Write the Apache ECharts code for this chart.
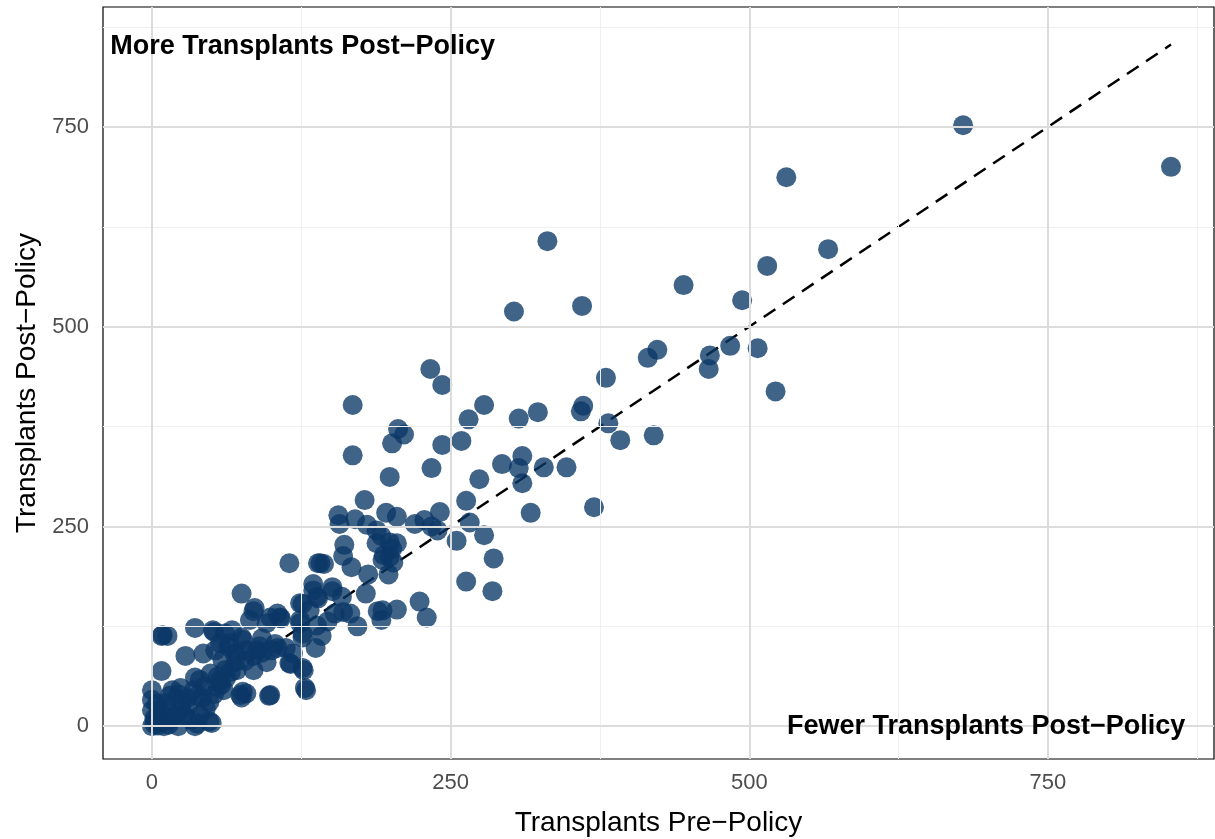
<!DOCTYPE html>
<html>
<head>
<meta charset="utf-8">
<script src="https://cdn.jsdelivr.net/npm/echarts@6/dist/echarts.min.js"></script>
<style>
html,body{margin:0;padding:0;background:#fff;}
#c{width:1215px;height:839px;}
</style>
</head>
<body>
<div id="c"></div>
<script>
// Transplants pre-policy (x) and post-policy (y) per center
const prePolicy = [
853,679,531,566,515,494,507,522,484,467,466,445,423,415,420,392,382,380,370,361,
359,360,331,303,347,328,323,310,307,307,310,317,293,278,274,265,259,243,243,233,
234,241,239,263,266,255,278,286,263,285,228,224,230,168,168,211,206,201,199,205,
220,196,178,156,157,170,180,188,192,161,160,167,181,194,201,205,198,205,189,179,
192,172,160,151,144,141,135,139,126,115,132,138,147,142,137,126,124,116,127,129,
98,75,85,92,103,112,108,99,79,64,52,36,28,8,13,8,74,79,48,38,
234,188,199,193,199,202,139,135,138,151,159,193,124,166,153,
9,51,0,0,3,13,22,36,50,75,36,17,11,25,42,55,61,53,69,75,61,
86,105,67,82,96,107,124,126,118,115,126,128,99,76,85,96,105,88,71,59,49,40,65,76,57,43,71,57,
0,2,5,8,10,14,18,20,25,30,6,12,28,33,40,45,22,35,30,48,52,58,62,66,70,78,85,90,92,100,60,55,44,38,24,15,0,2,4
];
const postPolicy = [
700,752,687,597,576,533,473,419,476,464,447,552,471,461,364,358,379,436,274,401,
394,526,607,519,324,324,393,338,385,323,304,267,328,402,309,384,357,352,427,447,
323,268,245,282,255,232,239,210,181,169,258,156,136,402,339,365,372,354,312,262,
253,267,283,264,253,259,252,245,238,227,213,199,190,214,222,229,190,146,144,166,
133,125,143,169,203,204,170,160,153,204,145,126,131,113,98,111,133,78,70,45,
38,166,144,110,103,98,135,136,95,100,118,123,88,113,113,69,39,41,6,3,
250,229,230,208,212,205,204,178,162,174,162,145,154,141,141,
114,120,45,33,8,8,0,0,4,36,61,45,29,29,36,49,70,95,91,111,116,
148,141,120,133,129,136,129,116,91,79,73,48,39,43,70,80,98,95,91,83,66,58,104,108,104,91,70,58,
0,3,1,5,0,2,10,15,20,25,20,25,12,8,14,22,40,45,35,30,40,52,60,68,80,82,88,100,92,95,45,62,50,38,48,38,20,10,28
];
const xMajorTicks = [0, 250, 500, 750];
const yMajorTicks = [0, 250, 500, 750];
const xMinorTicks = [125, 375, 625, 875];
const yMinorTicks = [125, 375, 625, 875];
const parityLine = [[0, 0], [853, 853]];
const annotationText = ['More Transplants Post\u2212Policy', 'Fewer Transplants Post\u2212Policy'];
const annotationAt = [[-35, 850], [865, 0]];
const annotationAlign = ['left', 'right'];

const points = prePolicy.map((x, i) => [x, postPolicy[i]]);

const gridLines = [];
xMinorTicks.forEach(v => gridLines.push({xAxis: v, lineStyle: {color: '#f0f0f0', width: 1, type: 'solid'}}));
yMinorTicks.forEach(v => gridLines.push({yAxis: v, lineStyle: {color: '#f0f0f0', width: 1, type: 'solid'}}));
xMajorTicks.forEach(v => gridLines.push({xAxis: v, lineStyle: {color: '#dcdcdc', width: 2, type: 'solid'}}));
yMajorTicks.forEach(v => gridLines.push({yAxis: v, lineStyle: {color: '#dcdcdc', width: 2, type: 'solid'}}));

const chart = echarts.init(document.getElementById('c'), null, {renderer: 'canvas'});
const font = '"Liberation Sans", Arial, sans-serif';
chart.setOption({
  animation: false,
  backgroundColor: '#fff',
  grid: {left: 103, top: 7, right: 1, bottom: 80, outerBoundsMode: 'none', containLabel: false, show: true, borderColor: '#000', borderWidth: 1.2, backgroundColor: 'transparent'},
  xAxis: {
    type: 'value', min: -41, max: 889,
    name: 'Transplants Pre\u2212Policy', nameLocation: 'middle', nameGap: 50,
    nameTextStyle: {fontFamily: font, fontSize: 28, color: '#000'},
    axisLine: {show: false},
    axisTick: {show: true, length: 5, customValues: xMajorTicks, lineStyle: {color: '#333', width: 1.5}},
    axisLabel: {customValues: xMajorTicks, fontFamily: font, fontSize: 22, color: '#4d4d4d', margin: 13},
    splitLine: {show: false}
  },
  yAxis: {
    type: 'value', min: -41, max: 900,
    name: 'Transplants Post\u2212Policy', nameLocation: 'middle', nameGap: 62,
    nameTextStyle: {fontFamily: font, fontSize: 28, color: '#000'},
    axisLine: {show: false},
    axisTick: {show: true, length: 5, customValues: yMajorTicks, lineStyle: {color: '#333', width: 1.5}},
    axisLabel: {customValues: yMajorTicks, fontFamily: font, fontSize: 22, color: '#4d4d4d', margin: 14},
    splitLine: {show: false}
  },
  series: [
    {
      type: 'scatter', z: 1, data: [[0, 0]], symbolSize: 0, silent: true,
      markLine: {silent: true, symbol: 'none', label: {show: false}, animation: false, data: gridLines}
    },
    {
      type: 'line', z: 2, data: parityLine, symbol: 'none',
      lineStyle: {color: '#000', width: 2.5, type: [14, 9]}
    },
    {
      type: 'scatter', z: 3, data: points, symbolSize: 20,
      itemStyle: {color: '#0a3766', opacity: 0.78}
    }
  ]
});
chart.setOption({
  graphic: annotationText.map((t, i) => {
    const p = chart.convertToPixel({gridIndex: 0}, annotationAt[i]);
    return {
      type: 'text', x: p[0], y: p[1], z: 100,
      style: {text: t, fill: '#000', font: 'bold 27px ' + font, textAlign: annotationAlign[i], textVerticalAlign: 'middle'}
    };
  })
});
</script>
</body>
</html>
